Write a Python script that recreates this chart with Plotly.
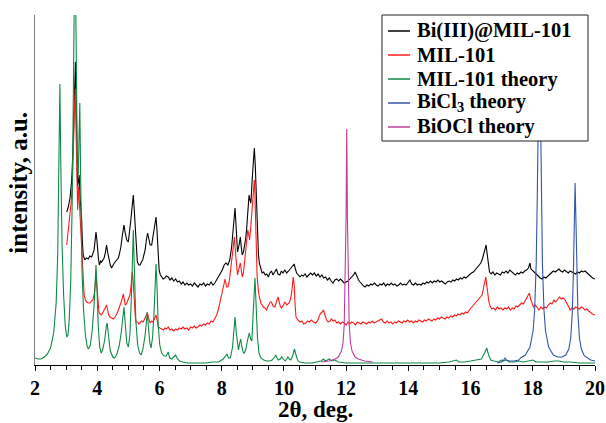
import plotly.graph_objects as go

# ---- data: (2theta, intensity a.u.) ----
BI_MIL101 = [
(3.02,153),(3.07,158),(3.13,168),(3.18,185),(3.22,215),(3.26,260),(3.30,303),(3.33,250),(3.35,205),(3.37,178),
(3.40,185),(3.42,190),(3.45,168),(3.47,160),(3.50,145),(3.52,125),(3.55,110),(3.60,105),(3.65,107),(3.71,106),
(3.76,109),(3.82,108),(3.86,112),(3.90,115),(3.93,124),(3.96,133),(3.99,125),(4.01,115),(4.04,106),(4.07,100),
(4.11,104),(4.14,103),(4.18,105),(4.22,107),(4.26,112),(4.30,120),(4.34,112),(4.39,103),(4.42,100),(4.46,97),
(4.50,100),(4.55,102),(4.60,104),(4.64,106),(4.68,107),(4.72,112),(4.76,118),(4.81,130),(4.86,140),(4.90,132),
(4.95,125),(5.00,123),(5.04,132),(5.08,145),(5.12,158),(5.16,170),(5.20,150),(5.24,128),(5.29,103),(5.34,100),
(5.38,100),(5.42,103),(5.46,105),(5.50,110),(5.54,115),(5.58,125),(5.62,132),(5.66,126),(5.70,120),(5.75,120),
(5.80,132),(5.85,142),(5.89,148),(5.92,135),(5.94,118),(5.99,95),(6.03,90),(6.07,88),(6.12,86),(6.17,87),
(6.22,89),(6.28,88),(6.34,85),(6.40,87),(6.46,84),(6.52,86),(6.58,83),(6.64,84),(6.70,81),(6.76,83),
(6.82,80),(6.88,82),(6.94,80),(7.00,81),(7.06,79),(7.12,82),(7.18,80),(7.24,78),(7.30,81),(7.36,80),
(7.42,82),(7.48,79),(7.54,81),(7.60,80),(7.66,83),(7.72,80),(7.78,82),(7.84,85),(7.90,88),(7.96,92),
(8.02,95),(8.08,100),(8.14,102),(8.20,100),(8.26,105),(8.32,118),(8.38,140),(8.43,157),(8.47,135),(8.51,113),
(8.56,120),(8.60,128),(8.63,118),(8.66,110),(8.70,113),(8.73,118),(8.77,126),(8.80,135),(8.84,155),(8.88,170),
(8.91,165),(8.94,162),(8.98,185),(9.02,205),(9.05,217),(9.08,200),(9.10,178),(9.13,150),(9.15,128),(9.18,112),
(9.21,102),(9.26,96),(9.30,92),(9.35,93),(9.40,90),(9.45,91),(9.50,88),(9.55,92),(9.60,94),(9.65,90),
(9.71,93),(9.76,96),(9.81,91),(9.87,90),(9.92,94),(9.97,92),(10.03,95),(10.09,92),(10.15,94),(10.21,96),
(10.27,98),(10.33,101),(10.37,96),(10.41,92),(10.46,90),(10.52,88),(10.57,90),(10.62,89),(10.68,91),(10.74,88),
(10.80,90),(10.86,92),(10.92,90),(10.98,92),(11.04,89),(11.10,91),(11.16,88),(11.22,90),(11.28,87),(11.34,88),
(11.40,85),(11.46,87),(11.52,84),(11.58,82),(11.64,85),(11.70,86),(11.76,84),(11.82,86),(11.88,84),(11.94,82),
(12.00,83),(12.06,84),(12.12,86),(12.18,88),(12.24,90),(12.29,93),(12.34,89),(12.40,85),(12.45,83),(12.50,81),
(12.56,79),(12.61,78),(12.67,80),(12.73,79),(12.79,81),(12.85,80),(12.91,82),(12.97,80),(13.03,79),(13.09,81),
(13.15,80),(13.21,82),(13.27,79),(13.33,81),(13.39,80),(13.45,82),(13.51,80),(13.57,81),(13.63,79),(13.69,80),
(13.75,82),(13.81,80),(13.87,81),(13.93,80),(13.99,83),(14.05,85),(14.11,81),(14.17,80),(14.23,82),(14.29,80),
(14.35,81),(14.41,80),(14.47,82),(14.53,81),(14.59,83),(14.65,82),(14.71,84),(14.77,82),(14.83,84),(14.89,83),
(14.95,85),(15.01,83),(15.07,84),(15.13,82),(15.19,81),(15.25,83),(15.31,84),(15.37,83),(15.43,85),(15.49,84),
(15.55,86),(15.61,85),(15.67,87),(15.73,86),(15.79,88),(15.85,87),(15.91,89),(15.97,90),(16.03,92),(16.09,93),
(16.15,95),(16.21,97),(16.27,99),(16.33,102),(16.38,106),(16.43,112),(16.47,118),(16.50,120),(16.53,112),(16.57,100),
(16.61,93),(16.66,91),(16.72,93),(16.78,90),(16.84,92),(16.90,91),(16.96,90),(17.02,93),(17.08,92),(17.14,94),
(17.20,92),(17.26,95),(17.32,93),(17.38,91),(17.44,90),(17.50,92),(17.56,91),(17.62,93),(17.68,92),(17.74,94),
(17.80,95),(17.86,97),(17.91,102),(17.94,96),(18.00,94),(18.06,92),(18.12,91),(18.18,89),(18.24,87),(18.30,86),
(18.36,88),(18.42,87),(18.48,89),(18.54,91),(18.60,92),(18.66,94),(18.72,93),(18.78,95),(18.84,96),(18.90,94),
(18.96,93),(19.02,95),(19.08,93),(19.14,92),(19.20,94),(19.26,93),(19.32,92),(19.38,91),(19.44,93),(19.50,92),
(19.56,94),(19.62,93),(19.68,94),(19.74,92),(19.80,91),(19.86,88),(19.92,87),(20.00,86),
]

MIL101 = [
(3.02,120),(3.05,128),(3.11,145),(3.16,162),(3.20,182),(3.23,220),(3.26,255),(3.29,276),(3.31,250),(3.34,208),
(3.37,155),(3.40,178),(3.42,165),(3.45,140),(3.48,128),(3.52,95),(3.55,80),(3.58,70),(3.62,65),(3.66,63),
(3.71,62),(3.77,62),(3.82,64),(3.86,65),(3.91,72),(3.94,82),(3.96,89),(3.99,78),(4.01,68),(4.06,52),
(4.10,51),(4.14,50),(4.19,53),(4.23,55),(4.27,58),(4.30,60),(4.34,54),(4.37,50),(4.42,48),(4.46,47),
(4.52,46),(4.57,48),(4.63,51),(4.68,55),(4.72,58),(4.76,62),(4.80,66),(4.84,71),(4.87,66),(4.90,60),
(4.94,61),(4.97,63),(5.01,66),(5.05,70),(5.09,80),(5.13,93),(5.16,82),(5.19,62),(5.22,50),(5.25,43),
(5.30,43),(5.34,41),(5.38,42),(5.43,44),(5.48,43),(5.53,46),(5.57,49),(5.61,52),(5.65,47),(5.70,42),
(5.75,44),(5.79,43),(5.84,46),(5.89,50),(5.93,44),(5.96,38),(6.01,37),(6.07,36),(6.13,35),(6.18,37),
(6.23,36),(6.28,38),(6.34,35),(6.40,36),(6.46,34),(6.52,36),(6.58,35),(6.64,37),(6.70,36),(6.76,38),
(6.82,36),(6.88,37),(6.94,35),(7.00,38),(7.06,37),(7.12,39),(7.18,37),(7.24,38),(7.30,40),(7.36,39),
(7.42,41),(7.48,40),(7.54,42),(7.60,41),(7.66,44),(7.72,43),(7.78,46),(7.84,50),(7.89,55),(7.94,62),
(7.99,70),(8.05,76),(8.11,86),(8.16,78),(8.20,78),(8.25,85),(8.30,98),(8.34,110),(8.38,120),(8.41,128),
(8.45,110),(8.48,96),(8.51,90),(8.55,96),(8.60,102),(8.63,95),(8.66,88),(8.70,92),(8.73,100),(8.76,108),
(8.80,122),(8.84,135),(8.87,130),(8.90,125),(8.94,140),(8.98,160),(9.02,176),(9.05,185),(9.07,170),(9.09,145),
(9.11,118),(9.14,88),(9.18,75),(9.21,68),(9.26,62),(9.30,60),(9.34,58),(9.39,57),(9.44,55),(9.48,58),
(9.52,61),(9.56,63),(9.60,63),(9.65,59),(9.71,58),(9.76,63),(9.81,68),(9.85,63),(9.89,58),(9.93,57),
(9.98,60),(10.04,63),(10.09,60),(10.13,61),(10.17,62),(10.21,66),(10.25,72),(10.30,88),(10.33,80),(10.36,60),
(10.39,48),(10.45,45),(10.52,43),(10.58,44),(10.64,41),(10.70,42),(10.76,44),(10.82,43),(10.89,45),(10.95,43),
(11.02,42),(11.08,44),(11.13,48),(11.18,52),(11.23,53),(11.27,55),(11.32,50),(11.37,45),(11.42,43),(11.48,44),
(11.53,46),(11.58,44),(11.64,45),(11.70,42),(11.76,43),(11.82,41),(11.88,43),(11.94,42),(12.00,40),(12.06,43),
(12.12,41),(12.18,43),(12.24,42),(12.30,40),(12.36,43),(12.42,42),(12.48,41),(12.54,43),(12.60,42),(12.66,41),
(12.72,43),(12.78,42),(12.84,44),(12.90,42),(12.96,43),(13.02,44),(13.08,45),(13.14,46),(13.20,43),(13.26,42),
(13.32,44),(13.38,42),(13.44,43),(13.50,41),(13.56,43),(13.62,42),(13.68,44),(13.74,43),(13.80,42),(13.86,44),
(13.92,43),(13.98,45),(14.04,43),(14.10,44),(14.16,42),(14.22,44),(14.28,43),(14.34,45),(14.40,44),(14.46,43),
(14.52,45),(14.58,44),(14.64,46),(14.70,45),(14.76,44),(14.82,46),(14.88,45),(14.94,47),(15.00,46),(15.06,48),
(15.12,47),(15.18,46),(15.24,48),(15.30,47),(15.36,49),(15.42,48),(15.48,50),(15.54,49),(15.60,51),(15.66,50),
(15.72,52),(15.78,51),(15.84,53),(15.90,52),(15.96,55),(16.02,57),(16.08,59),(16.14,62),(16.20,63),(16.26,65),
(16.32,68),(16.37,70),(16.42,78),(16.46,85),(16.49,88),(16.52,80),(16.55,70),(16.59,63),(16.63,59),(16.68,56),
(16.74,57),(16.80,55),(16.86,58),(16.92,56),(16.98,57),(17.04,55),(17.10,57),(17.16,56),(17.22,58),(17.28,55),
(17.34,57),(17.40,56),(17.46,59),(17.52,58),(17.58,60),(17.64,62),(17.70,61),(17.75,64),(17.80,68),(17.85,70),
(17.89,72),(17.93,66),(17.97,62),(18.02,58),(18.08,60),(18.14,57),(18.20,55),(18.26,58),(18.32,56),(18.38,58),
(18.44,57),(18.50,60),(18.56,62),(18.62,61),(18.68,65),(18.74,63),(18.80,66),(18.86,68),(18.92,66),(18.98,67),
(19.04,65),(19.10,62),(19.16,58),(19.20,55),(19.26,57),(19.32,56),(19.38,58),(19.44,57),(19.50,56),(19.56,58),
(19.62,57),(19.68,55),(19.74,56),(19.80,54),(19.86,52),(19.92,51),(20.00,50),
]

MIL101_THEORY = [
(2.00,7),(2.10,6),(2.20,6),(2.30,8),(2.40,11),(2.50,17),(2.60,32),(2.68,62),(2.73,110),(2.77,200),
(2.80,281),(2.83,200),(2.87,120),(2.92,70),(2.97,40),(3.02,28),(3.06,30),(3.10,45),(3.15,85),(3.20,170),
(3.24,320),(3.28,420),(3.32,330),(3.36,200),(3.39,190),(3.42,240),(3.44,262),(3.47,180),(3.51,95),(3.56,55),
(3.62,30),(3.68,18),(3.72,16),(3.78,20),(3.84,35),(3.90,60),(3.94,95),(3.96,100),(3.99,80),(4.03,40),
(4.08,18),(4.13,12),(4.18,16),(4.24,25),(4.29,38),(4.32,42),(4.36,30),(4.42,14),(4.50,8),(4.56,7),
(4.62,10),(4.70,18),(4.77,32),(4.83,52),(4.86,58),(4.90,42),(4.95,22),(5.00,18),(5.05,30),(5.10,70),
(5.14,125),(5.16,135),(5.19,100),(5.24,45),(5.30,20),(5.36,12),(5.41,10),(5.47,16),(5.54,30),(5.59,48),
(5.61,53),(5.64,40),(5.69,22),(5.73,17),(5.78,28),(5.83,55),(5.87,92),(5.89,101),(5.92,80),(5.96,40),
(6.01,20),(6.07,12),(6.15,9),(6.22,9),(6.28,13),(6.33,7),(6.40,6),(6.47,8),(6.52,10),(6.58,6),
(6.65,4),(6.75,3),(6.90,2),(7.10,2),(7.30,2),(7.50,2),(7.70,3),(7.90,3),(8.05,6),(8.12,9),
(8.17,11),(8.22,7),(8.28,7),(8.35,18),(8.40,38),(8.43,48),(8.47,32),(8.51,18),(8.54,15),(8.58,22),
(8.61,26),(8.65,18),(8.70,12),(8.73,12),(8.78,16),(8.84,26),(8.89,32),(8.93,26),(8.97,24),(9.01,50),
(9.05,82),(9.07,87),(9.10,65),(9.15,28),(9.20,12),(9.26,7),(9.35,5),(9.45,4),(9.55,4),(9.62,5),
(9.70,8),(9.74,10),(9.78,7),(9.82,5),(9.88,6),(9.93,8),(9.98,6),(10.04,4),(10.09,6),(10.13,8),
(10.17,6),(10.22,5),(10.28,9),(10.32,15),(10.34,16),(10.38,11),(10.44,5),(10.50,3),(10.70,2),(10.90,2),
(11.10,3),(11.20,4),(11.27,6),(11.33,4),(11.40,5),(11.46,6),(11.52,4),(11.64,5),(11.75,3),(12.00,2),
(12.50,2),(13.00,2),(13.50,2),(14.00,2),(14.50,2),(15.00,2),(15.30,3),(15.50,4),(15.55,5),(15.62,3),
(15.80,3),(16.00,4),(16.20,5),(16.35,6),(16.45,12),(16.52,17),(16.58,10),(16.65,5),(16.75,4),(16.90,3),
(17.00,5),(17.05,4),(17.15,5),(17.25,3),(17.40,3),(17.55,4),(17.70,3),(17.85,4),(18.00,5),(18.10,3),
(18.30,3),(18.50,3),(18.70,4),(18.85,4),(19.00,3),(19.20,3),(19.50,2),(19.80,2),(20.00,2),
]

BICL3_THEORY = [
(16.85,2),(17.00,3),(17.07,5),(17.11,7),(17.15,5),(17.25,4),(17.40,4),(17.55,5),(17.61,7),(17.76,10),
(17.91,18),(18.01,34),(18.06,55),(18.11,101),(18.145,168),(18.18,275),(18.21,333),(18.24,275),(18.275,168),(18.31,101),
(18.36,55),(18.41,34),(18.51,18),(18.66,10),(18.80,8),(18.95,8),(19.06,10),(19.16,16),(19.22,27),(19.27,52),
(19.305,92),(19.33,141),(19.36,182),(19.39,141),(19.415,92),(19.45,52),(19.50,27),(19.56,16),(19.66,9),(19.86,5),
(20.00,4),
]

BIOCL_THEORY = [
(11.20,3),(11.45,4),(11.65,6),(11.75,8),(11.85,14),(11.90,22),(11.94,40),(11.97,80),(12.00,150),(12.01,200),
(12.02,236),(12.03,200),(12.04,150),(12.07,80),(12.10,40),(12.14,22),(12.19,14),(12.29,8),(12.39,6),(12.60,4),
(12.85,3),
]

SERIES_NAMES = ["Bi(III)@MIL-101", "MIL-101", "MIL-101 theory", "BiCl<sub>3</sub> theory", "BiOCl theory"]
SERIES_DATA = [BI_MIL101, MIL101, MIL101_THEORY, BICL3_THEORY, BIOCL_THEORY]
SERIES_COLORS = ["#000000", "#ff1a1a", "#0e8a45", "#3355a8", "#c03c9c"]

X_TICKS = [2, 4, 6, 8, 10, 12, 14, 16, 18, 20]

FONT = "'Liberation Serif', 'Times New Roman', Times, serif"

fig = go.Figure()
for name, pts, col in zip(SERIES_NAMES, SERIES_DATA, SERIES_COLORS):
    fig.add_trace(go.Scatter(
        x=[p[0] for p in pts], y=[p[1] for p in pts], mode="lines",
        name=name, showlegend=False, hoverinfo="skip",
        line=dict(color=col, width=1.1),
    ))

fig.update_layout(
    width=606, height=423,
    margin=dict(l=35, r=11, t=15, b=58, autoexpand=False),
    paper_bgcolor="white", plot_bgcolor="white",
    font=dict(family=FONT, color="black"),
    showlegend=False,
)

fig.update_xaxes(
    range=[2, 20], tickvals=X_TICKS, ticktext=["<b>%d</b>" % v for v in X_TICKS],
    ticks="outside", ticklen=5, tickwidth=1, tickcolor="black",
    showline=True, linecolor="black", linewidth=1,
    showgrid=False, zeroline=False, automargin=False,
    tickfont=dict(family=FONT, size=20, color="black"),
    minor=dict(dtick=0.5, tick0=2, ticks="outside", ticklen=4, tickcolor="black", tickwidth=1),
)
fig.update_yaxes(
    range=[0, 350], showticklabels=False, ticks="", automargin=False,
    showline=True, linecolor="#808080", linewidth=1,
    showgrid=False, zeroline=False,
)

# legend box (drawn over the traces, like the reference)
LEG_X0, LEG_X1, LEG_Y0, LEG_Y1 = 0.6196, 0.9875, 0.64, 1.0
fig.add_shape(type="rect", xref="paper", yref="paper", x0=LEG_X0, x1=LEG_X1, y0=LEG_Y0, y1=LEG_Y1,
              fillcolor="white", line=dict(color="#222222", width=1), layer="above")
LEG_ROWS = [0.9543, 0.8857, 0.8171, 0.7486, 0.68]
for name, col, yy in zip(SERIES_NAMES, SERIES_COLORS, LEG_ROWS):
    fig.add_shape(type="line", xref="paper", yref="paper", x0=0.6304, x1=0.6696, y0=yy, y1=yy,
                  line=dict(color=col, width=1.5), layer="above")
    fig.add_annotation(text="<b>" + name + "</b>", xref="paper", yref="paper", x=0.6786, y=yy,
                       xanchor="left", yanchor="middle", showarrow=False,
                       font=dict(family=FONT, size=20.5, color="black"))

fig.add_annotation(
    text="<b>2θ, deg.</b>", xref="paper", yref="paper", x=0.5, y=-0.128,
    xanchor="center", yanchor="middle", showarrow=False,
    font=dict(family=FONT, size=23, color="black"),
)
fig.add_annotation(
    text="<b>intensity, a.u.</b>", xref="paper", yref="paper", x=-0.031, y=0.52,
    xanchor="center", yanchor="middle", showarrow=False, textangle=-90,
    font=dict(family=FONT, size=25, color="black"),
)

fig.write_html("out.html", config={"displayModeBar": False},
               post_script="document.body.style.margin='0';document.body.style.padding='0';")
